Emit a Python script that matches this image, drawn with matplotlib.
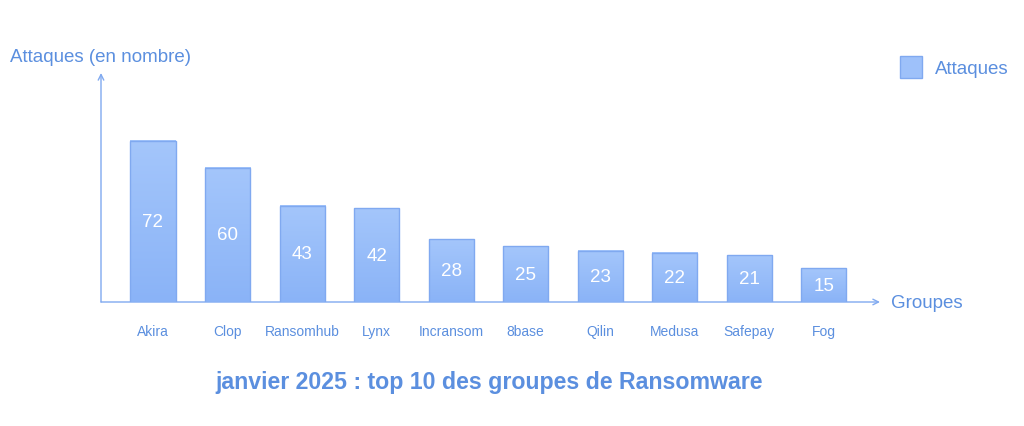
import numpy as np
import matplotlib
matplotlib.use("Agg")
import matplotlib.pyplot as plt
from matplotlib.patches import Rectangle

groupes = ["Akira", "Clop", "Ransomhub", "Lynx", "Incransom",
           "8base", "Qilin", "Medusa", "Safepay", "Fog"]
attaques = [72, 60, 43, 42, 28, 25, 23, 22, 21, 15]

titre = "janvier 2025 : top 10 des groupes de Ransomware"
label_y = "Attaques (en nombre)"
label_x = "Groupes"
label_serie = "Attaques"

TXT = "#5b8fdf"
EDGE = "#80a9f0"

plt.rcParams["font.family"] = ["Liberation Sans", "DejaVu Sans"]

fig = plt.figure(figsize=(10.24, 4.27), dpi=100)
ax = fig.add_axes([101 / 1024, 124 / 427, 779 / 1024, 229 / 427])
ax.set_xlim(-0.6975, 9.752)
ax.set_ylim(0, 102.4)
ax.axis("off")

width = 0.604
grad = np.linspace(0, 1, 256).reshape(-1, 1)
cmap = matplotlib.colors.LinearSegmentedColormap.from_list("g", ["#8ab3f7", "#a4c6fb"])
for i, v in enumerate(attaques):
    x0 = i - width / 2
    ax.imshow(grad, extent=(x0, x0 + width, 0, v), origin="lower", cmap=cmap,
              aspect="auto", zorder=2)
    ax.add_patch(Rectangle((x0, 0), width, v, fill=False, edgecolor=EDGE,
                           linewidth=1.0, zorder=3))
    ax.text(i, v / 2, str(v), ha="center", va="center", color="white",
            fontsize=13.5, zorder=4)
    ax.text(i, -13, groupes[i], ha="center", va="center", color=TXT,
            fontsize=10, clip_on=False)

# axes with arrows
ax.annotate("", xy=(1, 0), xytext=(0, 0), xycoords="axes fraction",
            arrowprops=dict(arrowstyle="->", color=EDGE, lw=1.0,
                            shrinkA=0, shrinkB=0), zorder=1)
ax.annotate("", xy=(0, 1), xytext=(0, 0), xycoords="axes fraction",
            arrowprops=dict(arrowstyle="->", color=EDGE, lw=1.0,
                            shrinkA=0, shrinkB=0), zorder=1)

fig.text(10 / 1024, 1 - 58 / 427, label_y, ha="left", va="center",
         color=TXT, fontsize=13.5)
fig.text(891 / 1024, 1 - 304 / 427, label_x, ha="left", va="center",
         color=TXT, fontsize=13.5)

# legend
fig.patches.append(Rectangle((900 / 1024, 1 - 79 / 427), 22 / 1024, 22 / 427,
                             transform=fig.transFigure, facecolor="#9ec1fa",
                             edgecolor=EDGE, linewidth=1.0))
fig.text(935 / 1024, 1 - 69 / 427, label_serie, ha="left", va="center",
         color=TXT, fontsize=13.5)

fig.text(489 / 1024, 1 - 383 / 427, titre, ha="center", va="center",
         color=TXT, fontsize=16.7, fontweight="bold")

fig.savefig("out.png", dpi=100)
